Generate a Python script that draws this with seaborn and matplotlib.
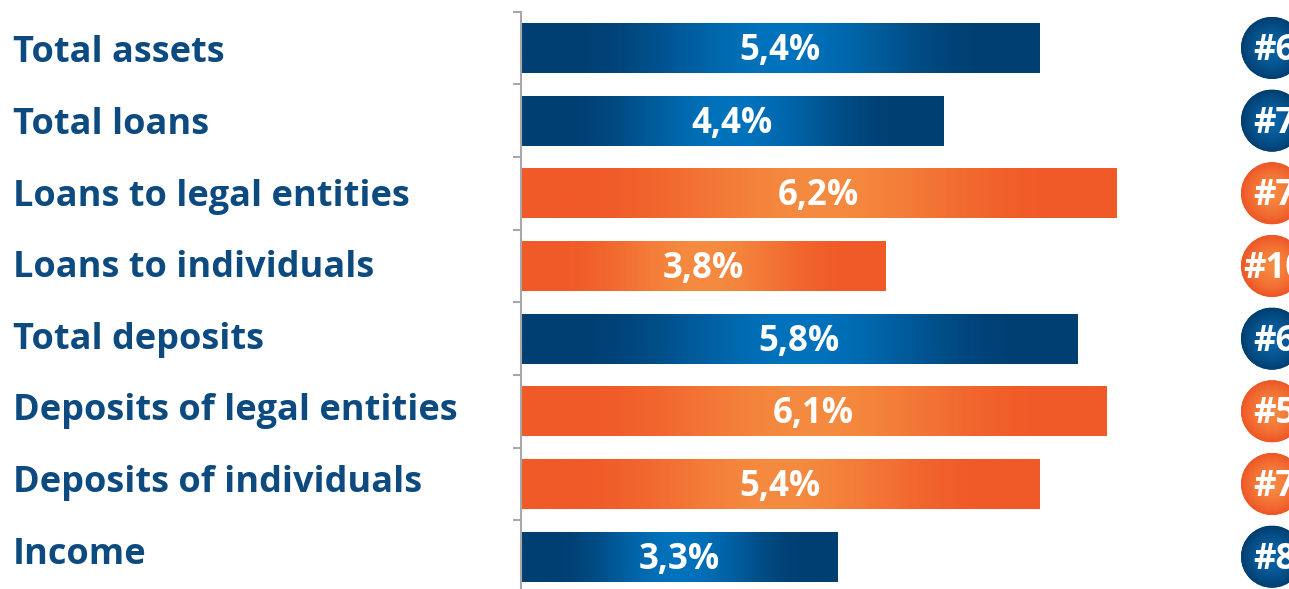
import numpy as np
import pandas as pd
import matplotlib
matplotlib.use("Agg")
import matplotlib.pyplot as plt
import seaborn as sns
from matplotlib.colors import to_rgb
from matplotlib.patches import Circle
from matplotlib.transforms import blended_transform_factory

# Year-over-year growth by balance-sheet line, with market rank
categories = ["Total assets", "Total loans", "Loans to legal entities", "Loans to individuals",
              "Total deposits", "Deposits of legal entities", "Deposits of individuals", "Income"]
growth = [5.4, 4.4, 6.2, 3.8, 5.8, 6.1, 5.4, 3.3]
group = ["total", "total", "segment", "segment", "total", "segment", "segment", "total"]
rank = ["#6", "#7", "#7", "#10", "#6", "#5", "#7", "#8"]

W, H, DPI = 1289, 589, 100

sns.set_theme(style="white")
plt.rcParams["font.family"] = ["Open Sans", "DejaVu Sans"]

palette = {"total": "#00457c", "segment": "#f15a29"}
shades = {"total": ("#003f72", "#0073bd"), "segment": ("#f05a28", "#f58b40")}
disc_shades = {"total": ("#003e70", "#0a64a6"), "segment": ("#ee5626", "#f68a42")}
label_color = "#0c4a80"
axis_grey = "#a8a8a8"

df = pd.DataFrame({"category": categories, "growth": growth, "group": group})

fig = plt.figure(figsize=(W / DPI, H / DPI), dpi=DPI)
left_px, right_px, top_px, bottom_px = 521, 1289, 11.6, 593
ax = fig.add_axes([left_px / W, (H - bottom_px) / H,
                   (right_px - left_px) / W, (bottom_px - top_px) / H])

sns.barplot(data=df, x="growth", y="category", hue="group", palette=palette,
            dodge=False, width=0.69, legend=False, orient="h", ax=ax,
            saturation=1, linewidth=0)


def smooth(t):
    return t * t * (3 - 2 * t)


def bar_gradient(c_edge, c_mid, n=400):
    t = np.linspace(0, 1, n)
    d = np.abs(2 * t - 1)
    w = smooth(1 - np.clip(d / 0.8, 0, 1))
    e, m = np.array(to_rgb(c_edge)), np.array(to_rgb(c_mid))
    return (e[None, :] * (1 - w[:, None]) + m[None, :] * w[:, None])[None, :, :]


# Horizontal shading on each bar, clipped to the bar itself
for patch in list(ax.patches):
    x0, y0 = patch.get_x(), patch.get_y()
    w, h = patch.get_width(), patch.get_height()
    if w <= 0:
        continue
    idx = int(round(y0 + h / 2))
    c_edge, c_mid = shades[group[idx]]
    im = ax.imshow(bar_gradient(c_edge, c_mid), extent=[x0, x0 + w, y0 + h, y0],
                   aspect="auto", interpolation="bilinear", zorder=patch.get_zorder() + 0.1)
    im.set_clip_path(patch)

ax.set_xlim(0, 8.0)
ax.set_ylim(7.5, -0.5)

# Value labels inside bars
for i, v in enumerate(growth):
    ax.text(v / 2, i + 0.165, f"{v:.1f}%".replace(".", ","), ha="center", va="baseline",
            color="white", fontsize=25, fontweight="bold", zorder=10)

# Category labels at the left margin
lbl_tr = blended_transform_factory(fig.transFigure, ax.transData)
for i, cat in enumerate(categories):
    ax.text(13 / W, i * 0.985 + 0.2, cat, transform=lbl_tr, ha="left", va="baseline",
            color=label_color, fontsize=26, fontweight="bold")

# Axis styling: single grey baseline with separators between rows
ax.set_yticks([i - 0.5 for i in range(len(categories))])
ax.set_yticklabels([])
ax.set_xticks([])
ax.set_xlabel("")
ax.set_ylabel("")
ax.tick_params(axis="y", left=True, length=6, width=1.5, color=axis_grey)
for side in ["top", "right", "bottom"]:
    ax.spines[side].set_visible(False)
ax.spines["left"].set_color(axis_grey)
ax.spines["left"].set_linewidth(1.5)

# Rank discs on the right, drawn in pixel space so they stay round
ov = fig.add_axes([0, 0, 1, 1])
ov.set_xlim(0, W)
ov.set_ylim(H, 0)
ov.axis("off")
fig.canvas.draw()
cx, r = 1272, 31
yy, xx = np.mgrid[-1:1:128j, -1:1:128j]
rr = np.clip(np.sqrt(xx ** 2 + yy ** 2), 0, 1)
for i, rk in enumerate(rank):
    cy = H - ax.transData.transform((0, i))[1]
    c_edge, c_mid = disc_shades[group[i]]
    e, m = np.array(to_rgb(c_edge)), np.array(to_rgb(c_mid))
    wgt = (1 - rr ** 1.6)[..., None]
    img = e * (1 - wgt) + m * wgt
    disc = Circle((cx, cy), r, facecolor=c_edge, edgecolor="none")
    ov.add_patch(disc)
    im = ov.imshow(img, extent=[cx - r, cx + r, cy + r, cy - r], aspect="auto",
                   interpolation="bilinear", zorder=2)
    im.set_clip_path(disc)
    ov.text(cx + 2, cy + 12, rk, ha="center", va="baseline", color="white",
            fontsize=25, fontweight="bold", zorder=3)
ov.set_xlim(0, W)
ov.set_ylim(H, 0)

fig.savefig("out.png", dpi=DPI)
